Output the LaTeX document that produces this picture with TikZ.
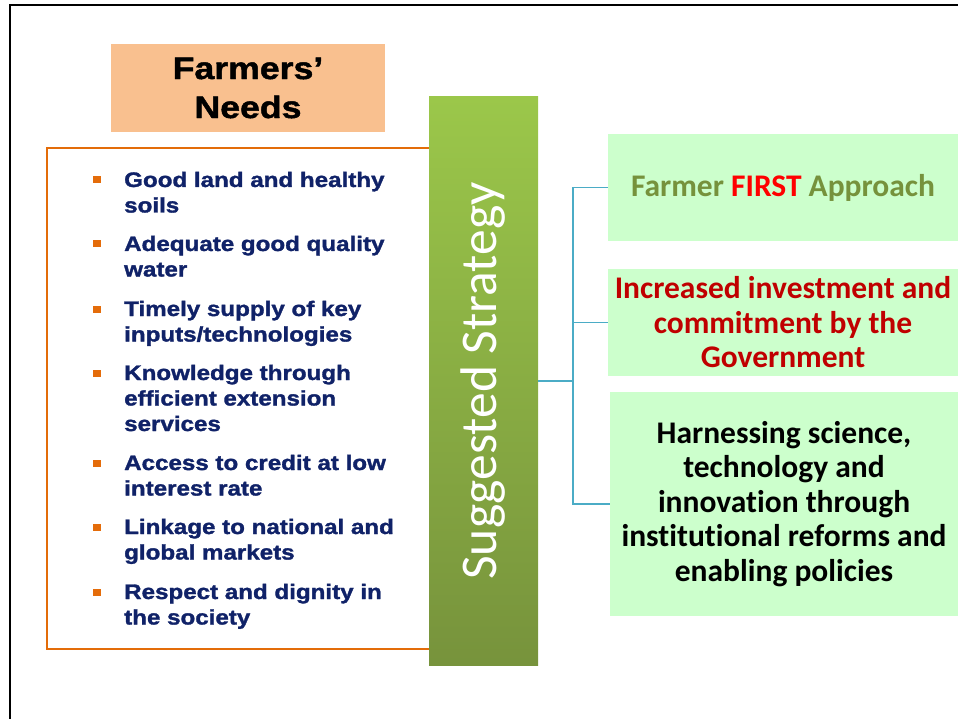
\documentclass[tikz,border=0pt]{standalone}
\usepackage{fontspec}
\setmainfont{Liberation Sans}
\newfontfamily\needsfont[FakeStretch=1.15, BoldFeatures={FakeBold=1.5}]{Liberation Sans}
\newfontfamily\calfont[Ligatures=NoCommon]{Carlito}

\definecolor{needsfill}{HTML}{F9C08F}
\definecolor{listedge}{HTML}{E36C09}
\definecolor{bulletorange}{HTML}{E46C0A}
\definecolor{needsblue}{HTML}{102268}
\definecolor{bartop}{HTML}{9BC74A}
\definecolor{barbottom}{HTML}{77933C}
\definecolor{choicefill}{HTML}{CCFFCC}
\definecolor{olivetext}{HTML}{76923C}
\definecolor{firstred}{HTML}{FF0000}
\definecolor{investred}{HTML}{C00000}
\definecolor{linkblue}{HTML}{4BACC6}

\begin{document}
\begin{tikzpicture}[x=1pt,y=-1pt,
		bullet/.style={fill=bulletorange, inner sep=0pt, minimum width=8pt, minimum height=7pt},
		need/.style={text=needsblue, align=left, inner sep=0pt, font=\needsfont\bfseries\fontsize{21}{25.5}\selectfont},
		choice/.style={fill=choicefill, inner sep=0pt, minimum width=350pt, align=center, font=\calfont\bfseries\fontsize{31.5}{34.5}\selectfont},
		link/.style={draw=linkblue, line width=1.3pt}]
		\useasboundingbox (0,0) rectangle (958,719);
		\draw[line width=2pt] (10,719) -- (10,5) -- (958,5);

		\node[fill=needsfill, minimum width=274pt, minimum height=88pt, inner sep=0pt, align=center, font=\needsfont\bfseries\fontsize{31}{39}\selectfont] (needs) at (248,88) {Farmers’\\Needs};

		\node[draw=listedge, line width=1.3pt, minimum width=383pt, minimum height=501pt] (list) at (238.5,398.5) {};
		\foreach \y/\n/\txt in {187/2/{Good land and healthy\\soils},
			251/2/{Adequate good quality\\water},
			316/2/{Timely supply of key\\inputs/technologies},
			380/3/{Knowledge through\\efficient extension\\services},
			470/2/{Access to credit at low\\interest rate},
			534/2/{Linkage to national and\\global markets},
			599/2/{Respect and dignity in\\the society}}
		{
			\node[bullet] (b\y) at (97,\y-7) {};
			\node[need, anchor=base west] (n\y) at (124,\y+25.5*\n-25.5) {\txt};
		}

		\node[inner sep=0pt, minimum width=109pt, minimum height=568pt, top color=bartop, bottom color=barbottom] (bar) at (483.5,381) {};
		\node[rotate=90, text=white, font=\calfont\fontsize{51.5}{60}\selectfont] (strategy) at (bar.center) {Suggested Strategy};

		\node[choice, minimum height=107pt, text=olivetext] (first) at (783,187.5) {Farmer \textcolor{firstred}{FIRST} Approach};
		\node[choice, minimum height=107pt, text=investred] (invest) at (783,322.5) {Increased investment and\\commitment by the\\Government};
		\node[choice, minimum width=348pt, minimum height=224pt] (science) at (784,504) {Harnessing science,\\technology and\\innovation through\\institutional reforms and\\enabling policies};

		\coordinate (split) at (573,381);
		\draw[link] (bar.east) -- (split);
		\foreach \n in {first,invest,science}
			\draw[link] (\n.west) -| (split);
	\end{tikzpicture}
\end{document}
